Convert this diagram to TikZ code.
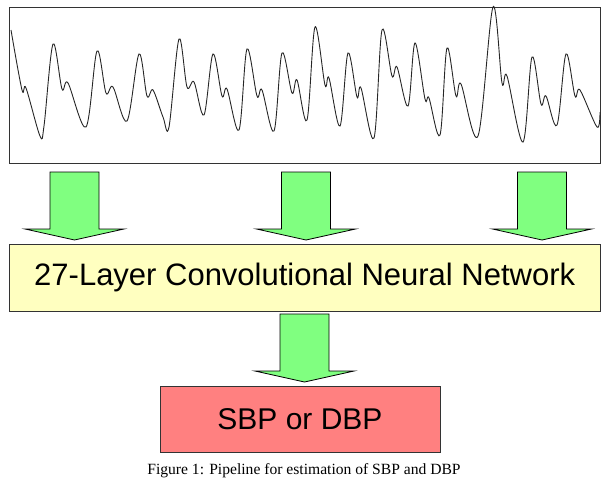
\documentclass[tikz,border=0pt]{standalone}
\usepackage{fontspec}
\setmainfont{Liberation Serif}
\setsansfont{Liberation Sans}
\usetikzlibrary{positioning}

\definecolor{arrowgreen}{HTML}{80FF80}
\definecolor{netyellow}{HTML}{FFFFC0}
\definecolor{outred}{HTML}{FF8080}

\begin{document}
\begin{tikzpicture}[x=1pt,y=-1pt,
      box_signal/.style={
         rectangle,
         draw=black!80,
         line width=1pt,
         inner sep=0pt,
         minimum width=590.5pt,
         minimum height=156pt},
      box_net/.style={
         rectangle,
         draw=black!80,
         fill=netyellow,
         line width=1pt,
         inner sep=0pt,
         minimum width=590.5pt,
         minimum height=67pt,
         font=\sffamily\fontsize{31}{36}\selectfont},
      box_out/.style={
         rectangle,
         draw=black!80,
         fill=outred,
         line width=1pt,
         inner sep=0pt,
         minimum width=280pt,
         minimum height=66pt,
         font=\sffamily\fontsize{30}{36}\selectfont},
      arrow_fat/.style={
         fill=arrowgreen,
         draw=black,
         line width=0.8pt,
         },
      wave/.style={
         draw=black!85,
         line width=0.9pt,
         }
]
      \useasboundingbox (0,0) rectangle (610,496);

      %signal
      \node[box_signal] (sig) at (304.75,85) {};
      \draw[wave] plot[smooth,tension=0.55] coordinates {
        (11,30) (22,90) (26,88) (40,136) (44,126) (53,44) (62,89) (68,83)
        (86,127) (97,51) (106,93) (113,87) (127,121) (139,54) (147,96) (153,90)
        (163,117) (169,127) (179,39) (187,87) (194,82) (204,115) (213,54) (222,96)
        (227,89) (239,130) (247,49) (257,96) (262,90) (274,131) (282,53) (292,93)
        (297,80) (307,120) (315,27) (325,85) (329,78) (340,126) (348,53) (357,97)
        (361,88) (374,138) (382,30) (392,76) (397,67) (408,106) (415,43) (425,99)
        (429,98) (440,135) (447,48) (456,96) (461,84) (478,136) (493,7) (502,83)
        (507,76) (523,142) (532,57) (541,104) (546,96) (557,125) (566,54) (575,96)
        (580,90) (597,127) (600,112)};

      %network and output
      \node[box_net,below=80pt of sig] (cnn) {27-Layer Convolutional Neural Network};
      \node[box_out,below=74pt of cnn,xshift=-4.75pt] (out) {SBP or DBP};

      \node[anchor=base,font=\fontsize{15.6}{18}\selectfont] (cap) at (304,474)
        {Figure 1: Pipeline for estimation of SBP and DBP};

    \foreach \x/\t in {% x position/target node
      74.5/cnn,
      306/cnn,
      542/cnn,
      304.5/out}
      \draw [arrow_fat] ([yshift=3.5pt]\x,0 |- \t.north) -- ++(49.5,-11) -- ++(-25,0)
        -- ++(0,-57) -- ++(-49,0) -- ++(0,57) -- ++(-25,0) -- cycle;

\end{tikzpicture}
\end{document}
